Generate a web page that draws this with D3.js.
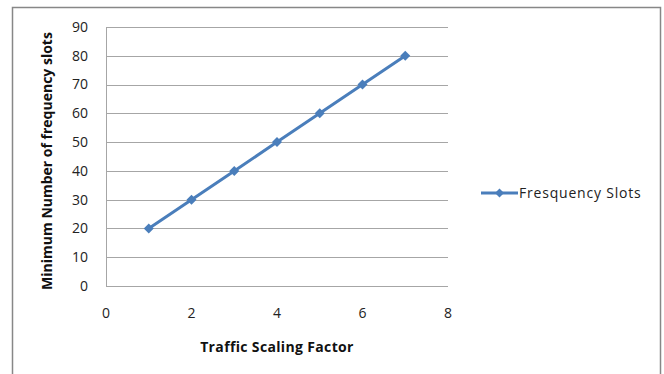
<!DOCTYPE html>
<html><head><meta charset="utf-8">
<script src="https://cdn.jsdelivr.net/npm/d3@7"></script>
<style>body{margin:0;background:#fff}svg{display:block}text{font-family:"Open Sans",sans-serif}</style>
</head><body>
<svg id="c" width="664" height="374"></svg>
<script>
const xValues = [1, 2, 3, 4, 5, 6, 7];
const yValues = [20, 30, 40, 50, 60, 70, 80];
const xTicks = [0, 2, 4, 6, 8];
const yTicks = [0, 10, 20, 30, 40, 50, 60, 70, 80, 90];
const seriesName = "Fresquency Slots";
const xTitle = "Traffic Scaling Factor";
const yTitle = "Minimum Number of frequency slots";

const svg = d3.select("#c");
const color = "#4a7ebb";
const FS = 14;
svg.append("rect").attr("x", 12.5).attr("y", 7.5).attr("width", 648).attr("height", 380)
  .attr("fill", "none").attr("stroke", "#878787").attr("stroke-width", 1.5);

const x = d3.scaleLinear().domain([0, 8]).range([106, 448]);
const y = d3.scaleLinear().domain([0, 90]).range([286, 27]);

svg.append("g").selectAll("line").data(yTicks).join("line")
  .attr("x1", x(0)).attr("x2", x(8)).attr("y1", d => Math.round(y(d)) + 0.5).attr("y2", d => Math.round(y(d)) + 0.5)
  .attr("stroke", "#a6a6a6").attr("stroke-width", 1);
svg.append("line").attr("x1", x(0) + 0.5).attr("x2", x(0) + 0.5).attr("y1", y(90)).attr("y2", y(0))
  .attr("stroke", "#a6a6a6");

svg.append("g").selectAll("text").data(yTicks).join("text")
  .attr("x", 88).attr("y", d => y(d)).attr("dy", "0.35em").attr("text-anchor", "end")
  .attr("font-size", FS).attr("fill", "#222").text(d => d);
svg.append("g").selectAll("text").data(xTicks).join("text")
  .attr("x", d => x(d)).attr("y", 313).attr("dy", "0.35em").attr("text-anchor", "middle")
  .attr("font-size", FS).attr("fill", "#222").text(d => d);

svg.append("text").attr("x", 277).attr("y", 347).attr("dy", "0.35em").attr("text-anchor", "middle")
  .attr("font-size", FS).attr("font-weight", "bold").attr("letter-spacing", 0.35).attr("fill", "#111").text(xTitle);
svg.append("text").attr("transform", "translate(47,161) rotate(-90)").attr("dy", "0.35em")
  .attr("text-anchor", "middle").attr("font-size", FS).attr("font-weight", "bold").attr("fill", "#111").text(yTitle);

const pts = xValues.map((v, i) => [v, yValues[i]]);
svg.append("path").datum(pts).attr("fill", "none").attr("stroke", color).attr("stroke-width", 3)
  .attr("stroke-linejoin", "round")
  .attr("d", d3.line().x(d => x(d[0])).y(d => y(d[1])));
const diamond = s => `M0,${-s}L${s},0L0,${s}L${-s},0Z`;
svg.append("g").selectAll("path").data(pts).join("path")
  .attr("transform", d => `translate(${x(d[0])},${y(d[1])})`).attr("d", diamond(5)).attr("fill", color);

const ly = 193;
svg.append("line").attr("x1", 481).attr("x2", 518).attr("y1", ly).attr("y2", ly).attr("stroke", color).attr("stroke-width", 3);
svg.append("path").attr("transform", `translate(499.5,${ly})`).attr("d", diamond(4.5)).attr("fill", color);
svg.append("text").attr("x", 519).attr("y", ly).attr("dy", "0.35em").attr("font-size", FS).attr("letter-spacing", 0.8).attr("fill", "#222").text(seriesName);
</script>
</body></html>
